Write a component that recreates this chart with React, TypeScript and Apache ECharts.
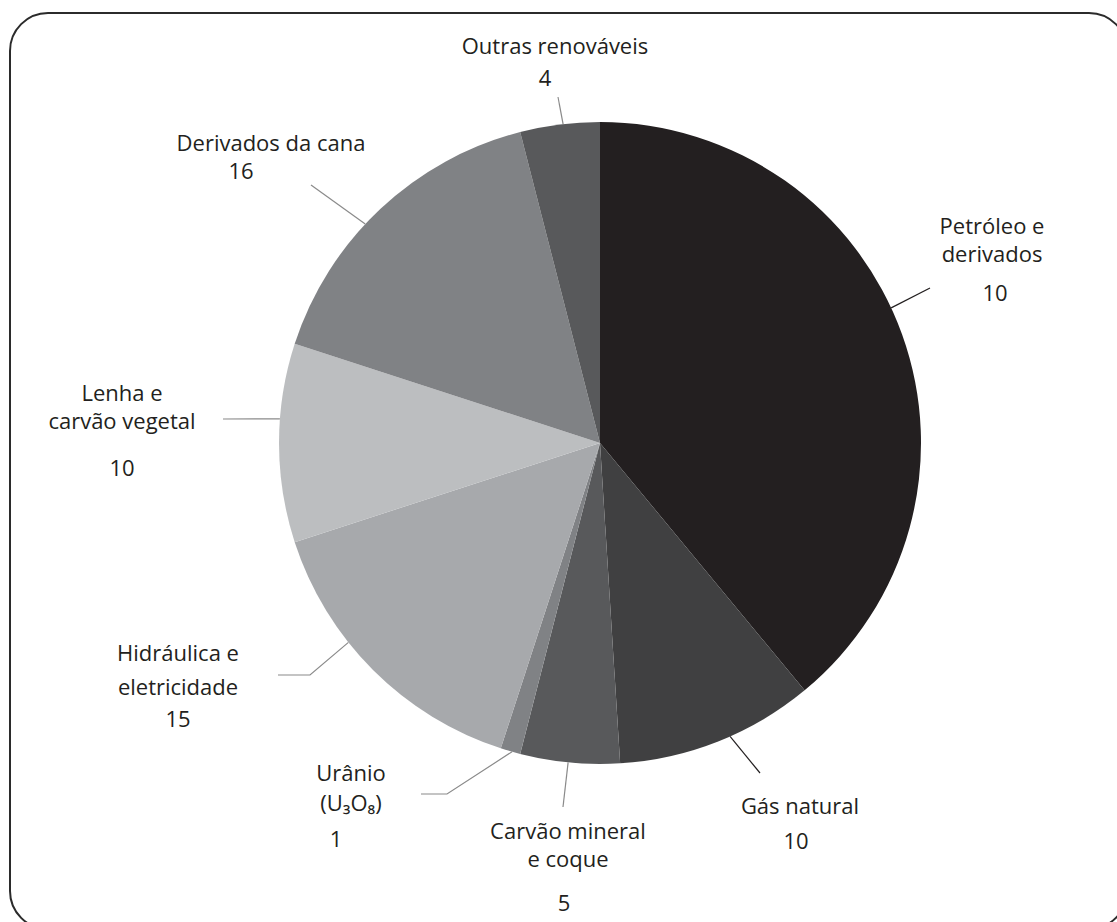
import React, { useEffect, useRef } from "react";
import * as echarts from "echarts";

// ---- data ----
const categories = [
  "Petróleo e derivados",
  "Gás natural",
  "Carvão mineral e coque",
  "Urânio (U₃O₈)",
  "Hidráulica e eletricidade",
  "Lenha e carvão vegetal",
  "Derivados da cana",
  "Outras renováveis",
];
const nameLines = [
  ["Petróleo e", "derivados"],
  ["Gás natural"],
  ["Carvão mineral", "e coque"],
  ["Urânio", "(U₃O₈)"],
  ["Hidráulica e", "eletricidade"],
  ["Lenha e", "carvão vegetal"],
  ["Derivados da cana"],
  ["Outras renováveis"],
];
const values = [39, 10, 5, 1, 15, 10, 16, 4];
const valueLabels = ["10", "10", "5", "1", "15", "10", "16", "4"];

// ---- styles / layout ----
const CX = 600;
const CY = 443;
const R = 321;
const colors = ["#231f20", "#404041", "#58595b", "#808285", "#a7a9ac", "#bcbec0", "#808285", "#58595b"];
const lineColors = ["#231f20", "#231f20", "#8a8a8a", "#8a8a8a", "#8a8a8a", "#8a8a8a", "#8a8a8a", "#8a8a8a"];
const labelAnchor = [
  [992, 225],
  [800, 805],
  [568, 830],
  [351, 772],
  [178, 652],
  [122, 392],
  [271, 142],
  [555, 45],
];
const nameLH = [28, 30, 28, 30, 34, 28, 30, 30];
const valueGap = [39, 35, 44, 36, 32, 47, 28, 32];
const valueShift = [3, -4, -4, -15, 0, 0, -30, -10];
// angle (deg, clockwise from 12 o'clock) where each leader line leaves the pie edge
const lineAngle = [65.1, 156.1, 185.7, 195.9, 231.6, 274.3, 313, 353.4];
const lineEnds = [
  [[930, 288]],
  [[760, 773]],
  [[563, 807]],
  [[447, 794], [421, 794]],
  [[310, 675], [278, 675]],
  [[223, 419]],
  [[311, 185]],
  [[558, 97]],
];

const FONT = "'Open Sans', sans-serif";
const FS = 22;
const TEXT = "#231f20";

export default function App() {
  const ref = useRef<HTMLDivElement>(null);
  useEffect(() => {
    if (!ref.current) return;
    const chart = echarts.init(ref.current, undefined, { renderer: "svg" });

    const rich: any = {};
    categories.forEach((_, i) => {
      rich["n" + i] = { fontFamily: FONT, fontSize: FS, color: TEXT, lineHeight: nameLH[i] };
      const s = valueShift[i];
      rich["v" + i] = {
        fontFamily: FONT,
        fontSize: FS,
        color: TEXT,
        lineHeight: 2 * valueGap[i] - nameLH[i],
        padding: s < 0 ? [0, -2 * s, 0, 0] : [0, 0, 0, 2 * s],
      };
    });

    const data = categories.map((name, i) => ({
      name,
      value: values[i],
      itemStyle: { color: colors[i] },
      labelLine: { lineStyle: { color: lineColors[i], width: 1.2 } },
    }));

    chart.setOption({
      animation: false,
      backgroundColor: "#ffffff",
      graphic: [
        {
          type: "rect",
          z: -10,
          shape: { x: 10, y: 13, width: 1117, height: 916, r: 38 },
          style: { fill: "none", stroke: "#2b2b2b", lineWidth: 2 },
        },
      ],
      series: [
        {
          type: "pie",
          center: [CX, CY],
          radius: [0, R],
          startAngle: 90,
          clockwise: true,
          avoidLabelOverlap: false,
          itemStyle: { borderWidth: 0 },
          emphasis: { disabled: true },
          label: {
            show: true,
            position: "outside",
            formatter: (p: any) => {
              const i = p.dataIndex;
              const lines = nameLines[i].map((l) => `{n${i}|${l}}`);
              lines.push(`{v${i}|${valueLabels[i]}}`);
              return lines.join("\n");
            },
            rich,
          },
          labelLine: { show: true, length: 0, length2: 0, smooth: false },
          labelLayout: (params: any) => {
            const i = params.dataIndex;
            const a = (lineAngle[i] * Math.PI) / 180;
            const start = [CX + R * Math.sin(a), CY - R * Math.cos(a)];
            const pts: number[][] = [start, ...lineEnds[i]];
            while (pts.length < 3) pts.push(pts[pts.length - 1]);
            return {
              x: labelAnchor[i][0],
              y: labelAnchor[i][1] - nameLH[i] / 2,
              align: "center",
              verticalAlign: "top",
              labelLinePoints: pts,
            };
          },
          data,
        },
      ],
    });
    return () => chart.dispose();
  }, []);
  return (
    <div
      ref={ref}
      style={{ position: "absolute", left: 0, top: 0, width: 1117, height: 922 }}
    />
  );
}
